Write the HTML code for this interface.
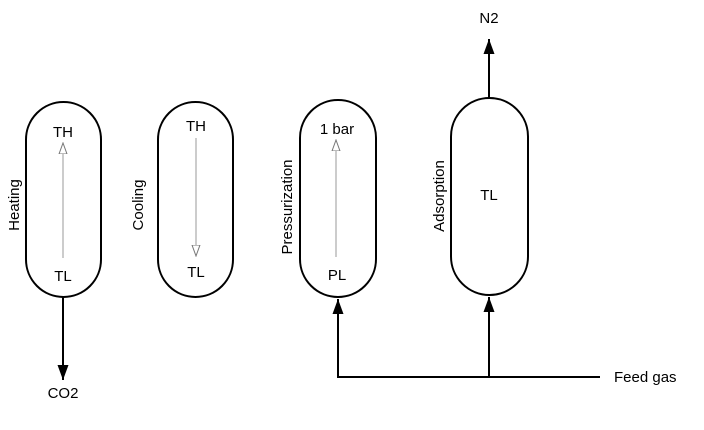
<!DOCTYPE html>
<html><head><style>body{margin:0;background:#fff}svg{display:block}text{font-family:"Liberation Sans",sans-serif;font-size:15px;fill:#000}</style></head><body>
<svg width="704" height="430" viewBox="0 0 704 430">
<defs>
<marker id="a" markerWidth="16" markerHeight="14" refX="15" refY="6" orient="auto" markerUnits="userSpaceOnUse"><path d="M0,0.5 L15,6 L0,11.5 Z" fill="#000"/></marker>
<marker id="o" markerWidth="12" markerHeight="10" refX="11" refY="4.5" orient="auto" markerUnits="userSpaceOnUse"><path d="M0,0.5 L11,4.5 L0,8.5 Z" fill="#fff" stroke="#777" stroke-width="1"/></marker>
</defs>
<g fill="none" stroke="#000" stroke-width="2">
<rect x="26" y="102" width="75" height="195" rx="37.5"/>
<rect x="158" y="102" width="75" height="195" rx="37.5"/>
<rect x="300" y="100" width="76" height="197" rx="38"/>
<rect x="451" y="98" width="77" height="197" rx="38.5"/>
<line x1="63" y1="297" x2="63" y2="380" marker-end="url(#a)"/>
<line x1="489" y1="98" x2="489" y2="39" marker-end="url(#a)"/>
<polyline points="600,377 338,377 338,299" marker-end="url(#a)"/>
<line x1="489" y1="377" x2="489" y2="297" marker-end="url(#a)"/>
</g>
<g stroke="#999" stroke-width="1">
<line x1="63" y1="258" x2="63" y2="143" marker-end="url(#o)"/>
<line x1="196" y1="138" x2="196" y2="256" marker-end="url(#o)"/>
<line x1="336" y1="257" x2="336" y2="140" marker-end="url(#o)"/>
</g>
<g text-anchor="middle">
<text x="63" y="137">TH</text><text x="63" y="281">TL</text>
<text x="196" y="131">TH</text><text x="196" y="277">TL</text>
<text x="337" y="134">1 bar</text><text x="337" y="280">PL</text>
<text x="489" y="200">TL</text>
<text x="489" y="23">N2</text>
<text x="63" y="398">CO2</text>
<text transform="translate(19,205) rotate(-90)">Heating</text>
<text transform="translate(143,205) rotate(-90)">Cooling</text>
<text transform="translate(292,207) rotate(-90)">Pressurization</text>
<text transform="translate(444,196) rotate(-90)">Adsorption</text>
</g>
<text x="614" y="382">Feed gas</text>
</svg>
</body></html>
